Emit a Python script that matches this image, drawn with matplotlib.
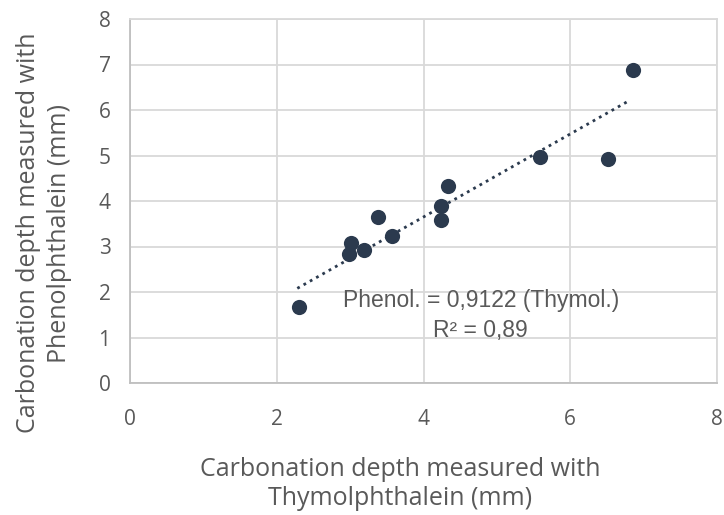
import matplotlib.pyplot as plt
import numpy as np

# data
thymol = [2.31, 2.98, 3.01, 3.19, 3.38, 3.57, 4.24, 4.24, 4.33, 5.59, 6.51, 6.86]
phenol = [1.68, 2.83, 3.07, 2.93, 3.64, 3.24, 3.58, 3.88, 4.32, 4.97, 4.93, 6.88]
slope = 0.9122
r2_text = "R\u00b2 = 0,89"
eq_text = "Phenol. = 0,9122 (Thymol.)"
ticks = [0, 1, 2, 3, 4, 5, 6, 7, 8]

dark = '#2b3a4e'
grey_txt = '#595959'
grid_col = '#d9d9d9'


def main():
    fig = plt.figure(figsize=(7.24, 5.15), dpi=100)
    ax = fig.add_axes([130 / 724, 1 - 383 / 515, 587 / 724, 364 / 515])

    ax.scatter(thymol, phenol, s=120, color=dark, zorder=3, linewidths=0)

    xs = np.array([min(thymol) - 0.03, max(thymol) - 0.04])
    ax.plot(xs, slope * xs, linestyle=(0, (1, 1.6)), color=dark, linewidth=2, zorder=2)

    ax.text(4.78, 1.82, eq_text, ha='center', va='center', fontsize=16.5,
            family='Liberation Sans', color=grey_txt)
    ax.text(4.78, 1.16, r2_text, ha='center', va='center', fontsize=16.5,
            family='Liberation Sans', color=grey_txt)

    ax.set_xlim(0, 8)
    ax.set_ylim(0, 8)
    ax.set_xticks(ticks[::2])
    ax.set_yticks(ticks)
    ax.grid(True, color=grid_col, linewidth=1.3)
    ax.set_axisbelow(True)
    for sp in ax.spines.values():
        sp.set_color(grid_col)
        sp.set_linewidth(1.3)
    ax.spines['bottom'].set_color('#bfbfbf')
    ax.spines['left'].set_color('#bfbfbf')
    ax.tick_params(length=0, labelsize=15, labelcolor=grey_txt)
    ax.tick_params(axis='x', pad=19)
    ax.tick_params(axis='y', pad=14)
    for lab in ax.get_xticklabels() + ax.get_yticklabels():
        lab.set_family('Open Sans')

    fig.text(400 / 724, 1 - 484 / 515, "Carbonation depth measured with\nThymolphthalein (mm)",
             ha='center', va='center', fontsize=18, family='Open Sans', color=grey_txt,
             linespacing=1.25)
    fig.text(44 / 724, 1 - 233 / 515, "Carbonation depth measured with\nPhenolphthalein (mm)",
             ha='center', va='center', rotation=90, fontsize=18, family='Open Sans',
             color=grey_txt, linespacing=1.3)

    fig.savefig('out.png', dpi=100)


if __name__ == "__main__":
    main()
